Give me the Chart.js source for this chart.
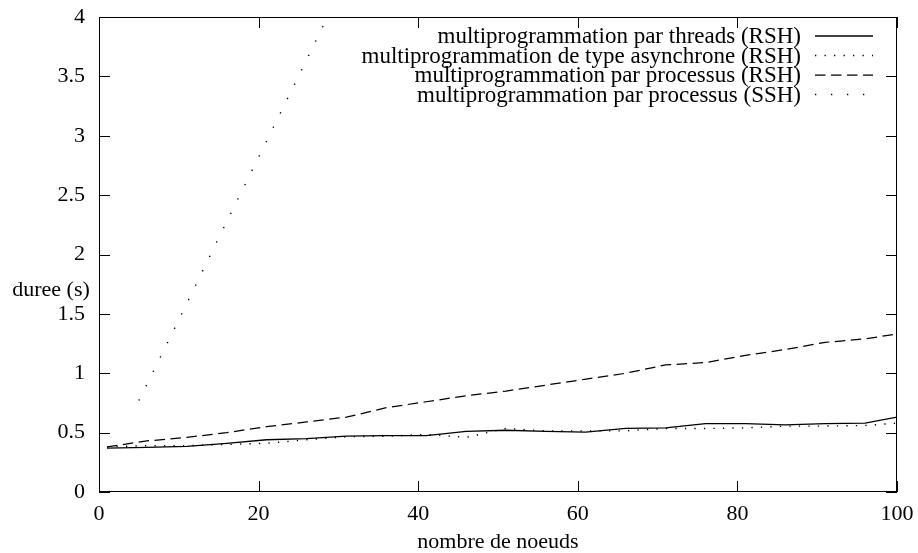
<!DOCTYPE html>
<html>
<head>
<meta charset="utf-8">
<script src="https://cdn.jsdelivr.net/npm/chart.js@4"></script>
<style>
  html, body { margin: 0; padding: 0; background: #fff; }
  canvas { display: block; }
</style>
</head>
<body>
<canvas id="chart" width="918" height="553"></canvas>
<script>
// --- DATA ---
const nodes = [1, 6, 11, 16, 21, 26, 31, 36, 41, 46, 51, 56, 61, 66, 71, 76, 81, 86, 91, 96, 100];
const sshNodes = [5, 10, 15, 20, 25, 30];

const threadsRsh = [0.37, 0.375, 0.385, 0.41, 0.44, 0.45, 0.47, 0.475, 0.475, 0.51, 0.52, 0.51, 0.505, 0.535, 0.54, 0.575, 0.575, 0.565, 0.575, 0.58, 0.63];
const asyncRsh   = [0.38, 0.39, 0.39, 0.40, 0.41, 0.44, 0.465, 0.47, 0.485, 0.46, 0.535, 0.515, 0.515, 0.515, 0.535, 0.535, 0.54, 0.555, 0.555, 0.56, 0.58];
const processRsh = [0.38, 0.43, 0.46, 0.50, 0.55, 0.59, 0.63, 0.71, 0.76, 0.81, 0.85, 0.90, 0.95, 1.00, 1.07, 1.09, 1.15, 1.20, 1.26, 1.29, 1.33];
const processSsh = [0.77, 1.45, 2.14, 2.82, 3.50, 4.19];

const xTicks = [0, 20, 40, 60, 80, 100];
const yTicks = [0, 0.5, 1, 1.5, 2, 2.5, 3, 3.5, 4];

const FONT = '"Liberation Serif", "DejaVu Serif", serif';

const pts = (xs, ys) => xs.map((x, i) => ({ x, y: ys[i] }));

const series = [
    { label: 'multiprogrammation par threads (RSH)', data: pts(nodes, threadsRsh), dash: [], width: 1.3 },
    { label: 'multiprogrammation de type asynchrone (RSH)', data: pts(nodes, asyncRsh), dash: [1.3, 8.2], width: 1.4 },
    { label: 'multiprogrammation par processus (RSH)', data: pts(nodes, processRsh), dash: [10.5, 5.5], width: 1.25 },
    { label: 'multiprogrammation par processus (SSH)', data: pts(sshNodes, processSsh), dash: [1.3, 14.7], width: 1.4 }
];

// frame, inward ticks, legend and titles in gnuplot style
const gnuplotDecor = {
    id: 'gnuplotDecor',
    afterDatasetsDraw(chart) {
        const { ctx, chartArea: a, scales: { x, y } } = chart;
        ctx.save();
        ctx.strokeStyle = '#000';
        ctx.lineWidth = 1;
        ctx.setLineDash([]);
        ctx.strokeRect(a.left + 0.5, a.top + 0.5, a.right - a.left - 1, a.bottom - a.top - 1);

        const tl = 11;
        ctx.beginPath();
        yTicks.forEach(v => {
            const py = Math.round(y.getPixelForValue(v)) + 0.5;
            ctx.moveTo(a.left, py); ctx.lineTo(a.left + tl, py);
            ctx.moveTo(a.right, py); ctx.lineTo(a.right - tl, py);
        });
        xTicks.forEach(v => {
            const px = Math.round(x.getPixelForValue(v)) + 0.5;
            ctx.moveTo(px, a.bottom); ctx.lineTo(px, a.bottom - tl);
            ctx.moveTo(px, a.top); ctx.lineTo(px, a.top + tl);
        });
        ctx.stroke();

        // legend (top right)
        ctx.font = '23px ' + FONT;
        ctx.fillStyle = '#000';
        ctx.textAlign = 'right';
        ctx.textBaseline = 'middle';
        chart.data.datasets.forEach((ds, i) => {
            const ry = 36 + i * 19.5;
            ctx.fillText(ds.label, 801, ry + 1);
            ctx.beginPath();
            ctx.lineWidth = ds.borderWidth;
            ctx.setLineDash(ds.borderDash || []);
            ctx.moveTo(815, ry);
            ctx.lineTo(873, ry);
            ctx.stroke();
        });
        ctx.setLineDash([]);

        // axis titles
        ctx.font = '22px ' + FONT;
        ctx.textAlign = 'center';
        ctx.fillText('duree (s)', 51, 290);
        ctx.fillText('nombre de noeuds', (a.left + a.right) / 2, 542);
        ctx.restore();
    }
};

new Chart(document.getElementById('chart'), {
    type: 'line',
    data: {
        datasets: series.map(s => ({
            label: s.label,
            data: s.data,
            borderColor: '#000',
            borderWidth: s.width,
            borderDash: s.dash,
            borderCapStyle: 'butt',
            pointRadius: 0,
            tension: 0,
            fill: false
        }))
    },
    options: {
        responsive: false,
        animation: false,
        layout: { padding: { top: 17, right: 21, left: 0, bottom: 0 } },
        plugins: { legend: { display: false }, tooltip: { enabled: false } },
        scales: {
            x: {
                type: 'linear',
                min: 0,
                max: 100,
                afterFit: s => { s.height = 61; s.paddingLeft = 0; s.paddingRight = 0; },
                afterBuildTicks: s => { s.ticks = xTicks.map(v => ({ value: v })); },
                grid: { display: false, drawTicks: false },
                border: { display: false },
                ticks: { color: '#000', font: { family: FONT, size: 22 }, padding: 9, maxRotation: 0 }
            },
            y: {
                type: 'linear',
                min: 0,
                max: 4,
                afterFit: s => { s.width = 99; s.paddingTop = 0; s.paddingBottom = 0; },
                afterBuildTicks: s => { s.ticks = yTicks.map(v => ({ value: v })); },
                grid: { display: false, drawTicks: false },
                border: { display: false },
                ticks: { color: '#000', font: { family: FONT, size: 22 }, padding: 14, callback: v => String(v) }
            }
        }
    },
    plugins: [gnuplotDecor]
});
</script>
</body>
</html>
